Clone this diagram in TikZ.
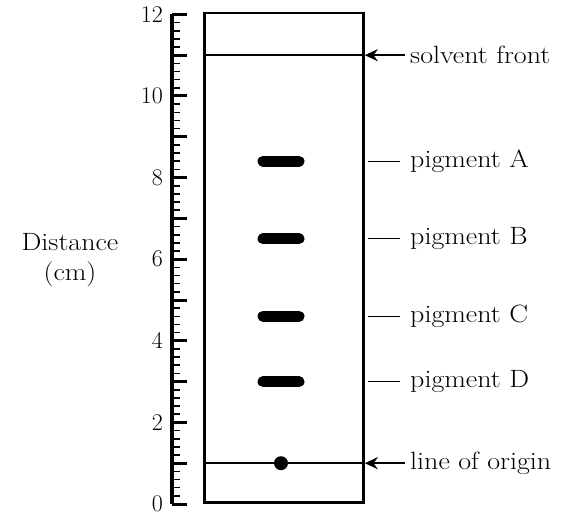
\documentclass[tikz,border=0pt]{standalone}
\usepackage{fontspec}
\newfontfamily\widefont{Latin Modern Roman}[FakeStretch=1.12]
\usetikzlibrary{arrows.meta,positioning}

\begin{document}
\begin{tikzpicture}[
  x=1pt, y=40.8pt,
  font=\widefont\fontsize{25}{30}\selectfont,
  paper/.style={draw,line width=2.8pt,minimum width=159pt,minimum height=489.6pt,
                inner sep=0pt,anchor=south west},
  band/.style={line width=11pt,line cap=round},
  lbl/.style={anchor=west,inner sep=0pt},
  num/.style={anchor=east,inner sep=0pt,font=\rmfamily\fontsize{24}{28}\selectfont},
  lead/.style={line width=1.3pt},
  ar/.style={line width=2.2pt,-{Stealth[length=13pt,width=12pt]}}]
\useasboundingbox (-172pt,-13pt) rectangle (403pt,504pt);
% ruler
\draw[line width=3.2pt] (0,12) -- (0,0);
\foreach \t in {0,...,59}
  \draw[line width=1.6pt] (0,\t/5) -- (8pt,\t/5);
\foreach \t in {0,...,12}
  \draw[line width=3pt] (0,\t) -- (15pt,\t);
\foreach \t in {0,2,...,12}
  \node[num] (n\t) at (-9pt,\t) {\t};
\node[align=center,inner sep=0pt] (dist) at (-102pt,5.98) {Distance\\(cm)};
% paper strip
\node[paper] (strip) at (31pt,0) {};
\coordinate (sfL) at (31pt,11);
\coordinate (orL) at (31pt,1);
\draw[line width=2.4pt] (sfL) -- (sfL -| strip.east);
\draw[line width=2.4pt] (orL) -- (orL -| strip.east);
\node[circle,fill,inner sep=0pt,minimum size=14pt] (dot) at (109pt,1) {};
\foreach \n/\y in {A/8.4,B/6.5,C/4.6,D/3.0}
  \draw[band] (91pt,\y) -- (127pt,\y);
% labels
\node[lbl] (sf) at (238pt,11) {solvent front};
\node[lbl] (pA) at (238pt,8.4) {pigment A};
\node[lbl] (pB) at (238pt,6.5) {pigment B};
\node[lbl] (pC) at (238pt,4.6) {pigment C};
\node[lbl] (pD) at (238pt,3.0) {pigment D};
\node[lbl] (lo) at (238pt,1) {line of origin};
\draw[ar] ([xshift=-5pt]sf.west) -- (sf.west -| strip.east);
\draw[ar] ([xshift=-5pt]lo.west) -- (lo.west -| strip.east);
\foreach \p in {pA,pB,pC,pD}
  \draw[lead] ([xshift=-10pt]\p.west) -- ++(-32pt,0);
\end{tikzpicture}
\end{document}
